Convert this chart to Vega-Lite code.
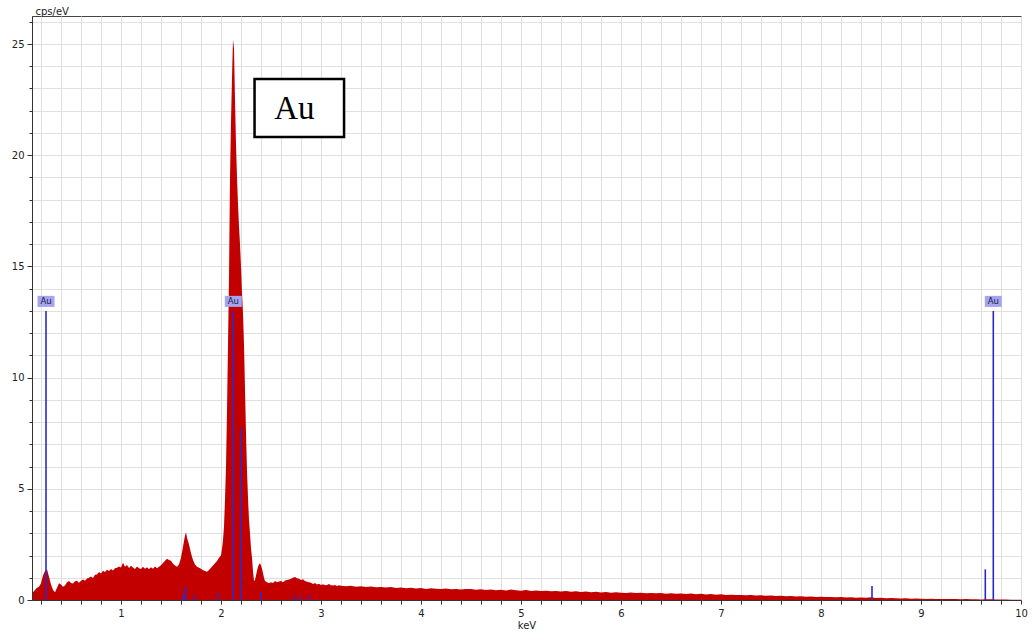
{
  "$schema": "https://vega.github.io/schema/vega-lite/v6.json",
  "width": 989,
  "height": 584,
  "autosize": {"type": "none"},
  "padding": {"left": 32, "top": 16, "right": 11, "bottom": 33},
  "background": "white",
  "datasets": {
    "spec": [
      {"e":0.12,"v":0.35},{"e":0.14,"v":0.45},{"e":0.16,"v":0.55},{"e":0.18,"v":0.6},{"e":0.2,"v":0.75},{"e":0.22,"v":1.1},{"e":0.24,"v":1.3},{"e":0.26,"v":1.38},{"e":0.28,"v":1.05},{"e":0.3,"v":0.7},{"e":0.32,"v":0.45},{"e":0.34,"v":0.35},{"e":0.36,"v":0.55},{"e":0.38,"v":0.75},{"e":0.4,"v":0.7},{"e":0.42,"v":0.6},{"e":0.44,"v":0.65},{"e":0.46,"v":0.8},{"e":0.48,"v":0.85},{"e":0.5,"v":0.76},{"e":0.52,"v":0.74},{"e":0.54,"v":0.84},{"e":0.56,"v":0.86},{"e":0.58,"v":0.78},{"e":0.6,"v":0.86},{"e":0.62,"v":0.92},{"e":0.64,"v":0.86},{"e":0.66,"v":0.97},{"e":0.68,"v":1.0},{"e":0.7,"v":1.06},{"e":0.72,"v":0.99},{"e":0.74,"v":1.13},{"e":0.76,"v":1.15},{"e":0.78,"v":1.26},{"e":0.8,"v":1.19},{"e":0.82,"v":1.31},{"e":0.84,"v":1.26},{"e":0.86,"v":1.36},{"e":0.88,"v":1.3},{"e":0.9,"v":1.39},{"e":0.92,"v":1.33},{"e":0.94,"v":1.43},{"e":0.96,"v":1.45},{"e":0.98,"v":1.51},{"e":1.0,"v":1.46},{"e":1.02,"v":1.68},{"e":1.04,"v":1.5},{"e":1.06,"v":1.57},{"e":1.08,"v":1.44},{"e":1.1,"v":1.54},{"e":1.12,"v":1.46},{"e":1.14,"v":1.39},{"e":1.16,"v":1.51},{"e":1.18,"v":1.43},{"e":1.2,"v":1.39},{"e":1.22,"v":1.5},{"e":1.24,"v":1.4},{"e":1.26,"v":1.47},{"e":1.28,"v":1.38},{"e":1.3,"v":1.47},{"e":1.32,"v":1.41},{"e":1.34,"v":1.51},{"e":1.36,"v":1.43},{"e":1.38,"v":1.5},{"e":1.4,"v":1.56},{"e":1.42,"v":1.66},{"e":1.44,"v":1.76},{"e":1.46,"v":1.85},{"e":1.48,"v":1.8},{"e":1.5,"v":1.77},{"e":1.52,"v":1.63},{"e":1.54,"v":1.55},{"e":1.56,"v":1.5},{"e":1.58,"v":1.6},{"e":1.6,"v":1.9},{"e":1.62,"v":2.4},{"e":1.64,"v":2.9},{"e":1.65,"v":3.05},{"e":1.66,"v":2.8},{"e":1.68,"v":2.5},{"e":1.7,"v":2.1},{"e":1.72,"v":1.8},{"e":1.74,"v":1.6},{"e":1.76,"v":1.5},{"e":1.78,"v":1.45},{"e":1.8,"v":1.4},{"e":1.82,"v":1.34},{"e":1.84,"v":1.3},{"e":1.86,"v":1.27},{"e":1.88,"v":1.35},{"e":1.9,"v":1.45},{"e":1.92,"v":1.55},{"e":1.94,"v":1.65},{"e":1.96,"v":1.75},{"e":1.98,"v":1.9},
      {"e":2.0,"v":2.0},{"e":2.01,"v":2.3},{"e":2.02,"v":2.7},{"e":2.03,"v":3.3},{"e":2.04,"v":4.5},{"e":2.05,"v":6.0},{"e":2.06,"v":8.5},{"e":2.07,"v":11.5},{"e":2.08,"v":14.5},{"e":2.09,"v":19.0},{"e":2.1,"v":21.5},{"e":2.11,"v":23.5},{"e":2.12,"v":25.2},{"e":2.13,"v":24.8},{"e":2.14,"v":22.5},{"e":2.15,"v":20.5},{"e":2.16,"v":19.0},{"e":2.17,"v":17.8},{"e":2.18,"v":16.8},{"e":2.19,"v":16.0},{"e":2.2,"v":15.0},{"e":2.21,"v":13.8},{"e":2.22,"v":12.9},{"e":2.23,"v":11.5},{"e":2.24,"v":9.5},{"e":2.25,"v":7.5},{"e":2.26,"v":5.8},{"e":2.27,"v":4.6},{"e":2.28,"v":3.6},{"e":2.29,"v":3.0},{"e":2.3,"v":2.3},{"e":2.31,"v":1.9},{"e":2.32,"v":1.3},{"e":2.33,"v":0.85},{"e":2.34,"v":0.9},{"e":2.35,"v":1.1},{"e":2.36,"v":1.3},{"e":2.37,"v":1.5},{"e":2.38,"v":1.6},{"e":2.39,"v":1.65},{"e":2.4,"v":1.55},{"e":2.41,"v":1.4},{"e":2.42,"v":1.2},{"e":2.43,"v":1.0},{"e":2.44,"v":0.85},{"e":2.46,"v":0.8},{"e":2.48,"v":0.75},
      {"e":2.5,"v":0.8},{"e":2.52,"v":0.77},{"e":2.54,"v":0.85},{"e":2.56,"v":0.8},{"e":2.58,"v":0.83},{"e":2.6,"v":0.85},{"e":2.62,"v":0.8},{"e":2.64,"v":0.88},{"e":2.66,"v":0.9},{"e":2.68,"v":0.92},{"e":2.7,"v":0.96},{"e":2.72,"v":1.0},{"e":2.74,"v":1.03},{"e":2.76,"v":0.98},{"e":2.78,"v":0.95},{"e":2.8,"v":0.9},{"e":2.82,"v":0.93},{"e":2.84,"v":0.85},{"e":2.86,"v":0.82},{"e":2.88,"v":0.8},{"e":2.9,"v":0.78},{"e":2.92,"v":0.72},{"e":2.94,"v":0.76},{"e":2.96,"v":0.7},{"e":2.98,"v":0.73},{"e":3.0,"v":0.68},{"e":3.02,"v":0.71},{"e":3.04,"v":0.66},{"e":3.06,"v":0.68},{"e":3.08,"v":0.72},{"e":3.1,"v":0.66},{"e":3.12,"v":0.65},{"e":3.14,"v":0.68},{"e":3.16,"v":0.63},{"e":3.18,"v":0.66},{"e":3.2,"v":0.64},
      {"e":3.25,"v":0.62},{"e":3.3,"v":0.64},{"e":3.35,"v":0.6},{"e":3.4,"v":0.62},{"e":3.45,"v":0.58},{"e":3.5,"v":0.61},{"e":3.55,"v":0.57},{"e":3.6,"v":0.59},{"e":3.65,"v":0.56},{"e":3.7,"v":0.58},{"e":3.75,"v":0.54},{"e":3.8,"v":0.56},{"e":3.85,"v":0.53},{"e":3.9,"v":0.55},{"e":3.95,"v":0.52},{"e":4.0,"v":0.54},{"e":4.05,"v":0.5},{"e":4.1,"v":0.53},{"e":4.15,"v":0.51},{"e":4.2,"v":0.49},{"e":4.25,"v":0.52},{"e":4.3,"v":0.48},{"e":4.35,"v":0.5},{"e":4.4,"v":0.47},{"e":4.45,"v":0.49},{"e":4.5,"v":0.5},{"e":4.55,"v":0.46},{"e":4.6,"v":0.48},{"e":4.65,"v":0.45},{"e":4.7,"v":0.47},{"e":4.75,"v":0.44},{"e":4.8,"v":0.46},{"e":4.85,"v":0.43},{"e":4.9,"v":0.47},{"e":4.95,"v":0.44},{"e":5.0,"v":0.42},{"e":5.05,"v":0.45},{"e":5.1,"v":0.41},{"e":5.15,"v":0.43},{"e":5.2,"v":0.4},{"e":5.25,"v":0.42},{"e":5.3,"v":0.39},{"e":5.35,"v":0.41},{"e":5.4,"v":0.38},{"e":5.45,"v":0.4},{"e":5.5,"v":0.37},{"e":5.55,"v":0.39},{"e":5.6,"v":0.36},{"e":5.65,"v":0.38},{"e":5.7,"v":0.35},{"e":5.75,"v":0.37},{"e":5.8,"v":0.34},{"e":5.85,"v":0.36},{"e":5.9,"v":0.33},{"e":5.95,"v":0.35},{"e":6.0,"v":0.33},{"e":6.05,"v":0.31},{"e":6.1,"v":0.34},{"e":6.15,"v":0.31},{"e":6.2,"v":0.33},{"e":6.25,"v":0.3},{"e":6.3,"v":0.32},{"e":6.35,"v":0.3},{"e":6.4,"v":0.31},{"e":6.45,"v":0.28},{"e":6.5,"v":0.3},{"e":6.55,"v":0.28},{"e":6.6,"v":0.29},{"e":6.65,"v":0.27},{"e":6.7,"v":0.29},{"e":6.75,"v":0.26},{"e":6.8,"v":0.28},{"e":6.85,"v":0.25},{"e":6.9,"v":0.27},{"e":6.95,"v":0.24},{"e":7.0,"v":0.26},{"e":7.05,"v":0.23},{"e":7.1,"v":0.24},{"e":7.15,"v":0.22},{"e":7.2,"v":0.23},{"e":7.25,"v":0.21},{"e":7.3,"v":0.22},{"e":7.35,"v":0.2},{"e":7.4,"v":0.21},{"e":7.45,"v":0.19},{"e":7.5,"v":0.2},{"e":7.55,"v":0.18},{"e":7.6,"v":0.19},{"e":7.65,"v":0.17},{"e":7.7,"v":0.18},{"e":7.75,"v":0.16},{"e":7.8,"v":0.17},{"e":7.85,"v":0.15},{"e":7.9,"v":0.16},{"e":7.95,"v":0.14},{"e":8.0,"v":0.15},{"e":8.05,"v":0.13},{"e":8.1,"v":0.14},{"e":8.15,"v":0.12},{"e":8.2,"v":0.13},{"e":8.25,"v":0.11},{"e":8.3,"v":0.12},{"e":8.35,"v":0.1},{"e":8.4,"v":0.11},{"e":8.45,"v":0.1},{"e":8.5,"v":0.12},{"e":8.55,"v":0.09},{"e":8.6,"v":0.1},{"e":8.65,"v":0.08},{"e":8.7,"v":0.09},{"e":8.75,"v":0.08},{"e":8.8,"v":0.07},{"e":8.85,"v":0.08},{"e":8.9,"v":0.06},{"e":8.95,"v":0.07},{"e":9.0,"v":0.06},{"e":9.05,"v":0.05},{"e":9.1,"v":0.06},{"e":9.15,"v":0.05},{"e":9.2,"v":0.04},{"e":9.25,"v":0.05},{"e":9.3,"v":0.04},{"e":9.35,"v":0.04},{"e":9.4,"v":0.03},{"e":9.45,"v":0.04},{"e":9.5,"v":0.03},{"e":9.55,"v":0.03},{"e":9.6,"v":0.02},{"e":9.65,"v":0.03},{"e":9.7,"v":0.03},{"e":9.75,"v":0.02},{"e":9.8,"v":0.02},{"e":9.85,"v":0.02},{"e":9.9,"v":0.01},{"e":9.95,"v":0.01},{"e":10.0,"v":0.01}
    ],
    "lines": [
      {"e":0.25,"v":13.0,"lab":"Au"},
      {"e":2.123,"v":13.0,"lab":"Au"},
      {"e":9.723,"v":13.0,"lab":"Au"},
      {"e":2.197,"v":7.7},
      {"e":1.62,"v":0.25},
      {"e":1.645,"v":0.6},
      {"e":1.73,"v":0.22},
      {"e":1.97,"v":0.3},
      {"e":2.40,"v":0.37},
      {"e":2.73,"v":0.2},
      {"e":2.79,"v":0.2},
      {"e":2.88,"v":0.2},
      {"e":8.51,"v":0.63},
      {"e":9.643,"v":1.38}
    ],
    "note": [
      {"e":2.783,"v":22.12,"t":"Au"}
    ]
  },
  "encoding": {
    "x": {
      "field": "e",
      "type": "quantitative",
      "scale": {"domain": [0.11, 10], "nice": false, "zero": false},
      "axis": {
        "values": [0.2,0.4,0.6,0.8,1,1.2,1.4,1.6,1.8,2,2.2,2.4,2.6,2.8,3,3.2,3.4,3.6,3.8,4,4.2,4.4,4.6,4.8,5,5.2,5.4,5.6,5.8,6,6.2,6.4,6.6,6.8,7,7.2,7.4,7.6,7.8,8,8.2,8.4,8.6,8.8,9,9.2,9.4,9.6,9.8,10],
        "labelExpr": "abs(datum.value - round(datum.value)) < 0.01 ? format(datum.value, 'd') : ''",
        "labelFlush": false,
        "labelOverlap": false,
        "tickSize": 4,
        "labelPadding": 4,
        "labelFontSize": 10,
        "title": "keV",
        "titleFontSize": 10,
        "titleY": 28,
        "titleBaseline": "alphabetic"
      }
    },
    "y": {
      "field": "v",
      "type": "quantitative",
      "scale": {"domain": [0, 26.26], "nice": false},
      "axis": {
        "values": [0,1,2,3,4,5,6,7,8,9,10,11,12,13,14,15,16,17,18,19,20,21,22,23,24,25,26],
        "labelExpr": "datum.value % 5 === 0 ? datum.label : ''",
        "labelOverlap": false,
        "tickSize": {"condition": {"test": "datum.value % 5 === 0", "value": 5}, "value": 3},
        "labelPadding": 3,
        "labelFontSize": 10,
        "title": "cps/eV",
        "titleAngle": 0,
        "titleAlign": "left",
        "titleBaseline": "alphabetic",
        "titleX": 3,
        "titleY": -2,
        "titleFontSize": 10
      }
    }
  },
  "layer": [
    {
      "data": {"name": "spec"},
      "mark": {"type": "area", "color": "#c20000", "interpolate": "linear"}
    },
    {
      "data": {"name": "lines"},
      "mark": {"type": "rule", "color": "#2a2acc", "strokeWidth": 1.6},
      "encoding": {"y2": {"datum": 0}}
    },
    {
      "data": {"name": "lines"},
      "transform": [{"filter": "datum.lab != null"}],
      "mark": {"type": "point", "shape": "M-1,-0.65H1V0.65H-1Z", "size": 289, "filled": true, "color": "#a4a4f0", "opacity": 1, "yOffset": -9.5}
    },
    {
      "data": {"name": "lines"},
      "transform": [{"filter": "datum.lab != null"}],
      "mark": {"type": "text", "font": "DejaVu Sans", "fontSize": 8.5, "color": "#1a1a40", "baseline": "middle", "align": "center", "yOffset": -9.5},
      "encoding": {"text": {"field": "lab"}}
    },
    {
      "data": {"name": "note"},
      "mark": {"type": "point", "shape": "M-1,-0.648H1V0.648H-1Z", "size": 8010, "filled": true, "fill": "white", "stroke": "black", "strokeWidth": 2.5, "opacity": 1}
    },
    {
      "data": {"name": "note"},
      "mark": {"type": "text", "font": "Liberation Serif", "fontSize": 33, "color": "black", "baseline": "middle", "align": "center", "dx": -5, "dy": 1},
      "encoding": {"text": {"field": "t"}}
    }
  ],
  "config": {
    "view": {"stroke": "#444", "strokeWidth": 1},
    "axis": {
      "labelFont": "DejaVu Sans",
      "titleFont": "DejaVu Sans",
      "labelColor": "#222",
      "titleColor": "#222",
      "titleFontWeight": "normal",
      "gridColor": "#e0e0e0",
      "gridWidth": 1,
      "domainColor": "#333",
      "tickColor": "#333"
    }
  }
}
